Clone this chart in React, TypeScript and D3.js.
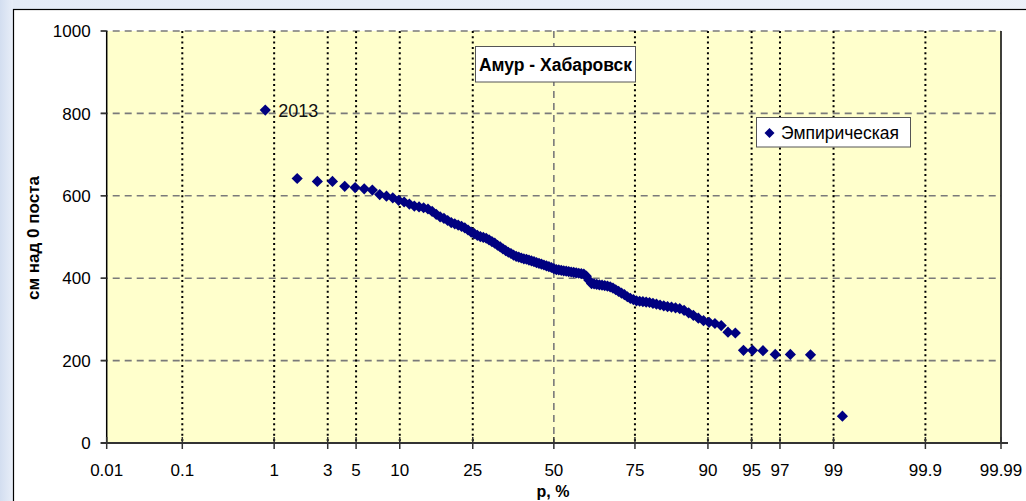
import React from "react";
import * as d3 from "d3";

// Empirical annual maximum levels (cm above gauge zero), ranked descending
const empiricalLevels = [
  808, 642, 635, 635, 623, 620, 617, 614, 603, 599, 595, 589,
  585, 580, 575, 573, 571, 568, 562, 555, 549, 545,
  540, 535, 532, 529, 526, 522, 517, 512, 508, 504,
  501, 499, 497, 493, 489, 485, 480, 476, 471, 467,
  463, 460, 456, 453, 451, 449, 447, 446, 444, 442,
  440, 438, 436, 434, 432, 430, 428, 426,
  423, 421, 420, 419, 418, 417, 416, 415, 414, 413, 412, 411, 410,
  405, 395, 387,
  386, 385, 384, 383, 382, 381, 379,
  376, 372, 368, 364, 360, 355, 351, 348, 345,
  344, 343, 342, 341, 339, 337, 335, 333, 331, 330, 328, 326,
  322, 316, 310, 303, 297, 293, 290, 285, 269, 267,
  225, 225, 224, 215, 215, 214, 65,
];
const pointLabels = ["2013"];
const xTicks = [0.01, 0.1, 1, 3, 5, 10, 25, 50, 75, 90, 95, 97, 99, 99.9, 99.99];
const yTicks = [0, 200, 400, 600, 800, 1000];
const titleText = "Амур - Хабаровск";
const legendText = "Эмпирическая";
const xTitle = "p, %";
const yTitle = "см над 0 поста";

// inverse standard normal CDF (Acklam)
function probit(p: number): number {
  const a = [-3.969683028665376e1, 2.209460984245205e2, -2.759285104469687e2, 1.38357751867269e2, -3.066479806614716e1, 2.506628277459239];
  const b = [-5.447609879822406e1, 1.615858368580409e2, -1.556989798598866e2, 6.680131188771972e1, -1.328068155288572e1];
  const c = [-7.784894002430293e-3, -3.223964580411365e-1, -2.400758277161838, -2.549732539343734, 4.374664141464968, 2.938163982698783];
  const d = [7.784695709041462e-3, 3.224671290700398e-1, 2.445134137142996, 3.754408661907416];
  const pl = 0.02425;
  if (p < pl) {
    const q = Math.sqrt(-2 * Math.log(p));
    return (((((c[0] * q + c[1]) * q + c[2]) * q + c[3]) * q + c[4]) * q + c[5]) / ((((d[0] * q + d[1]) * q + d[2]) * q + d[3]) * q + 1);
  }
  if (p > 1 - pl) {
    const q = Math.sqrt(-2 * Math.log(1 - p));
    return -(((((c[0] * q + c[1]) * q + c[2]) * q + c[3]) * q + c[4]) * q + c[5]) / ((((d[0] * q + d[1]) * q + d[2]) * q + d[3]) * q + 1);
  }
  const q = p - 0.5;
  const r = q * q;
  return ((((((a[0] * r + a[1]) * r + a[2]) * r + a[3]) * r + a[4]) * r + a[5]) * q) / (((((b[0] * r + b[1]) * r + b[2]) * r + b[3]) * r + b[4]) * r + 1);
}

const W = 1026, H = 501;
const L = 106.7, R = 1001, T = 31, B = 443;
const FONT = "'Liberation Sans', Arial, sans-serif";
const NAVY = "#000080";

export default function App() {
  const n = empiricalLevels.length;
  const points = empiricalLevels.map((v, i) => ({ p: (100 * (i + 1)) / (n + 1), v }));

  const x = d3.scaleLinear().domain([probit(0.0001), probit(0.9999)]).range([L, R]);
  const xp = (pct: number) => x(probit(pct / 100));
  const y = d3.scaleLinear().domain([0, 1000]).range([B, T]);

  const diamond = (cx: number, cy: number, r = 5.6) =>
    `M${cx},${cy - r}L${cx + r},${cy}L${cx},${cy + r}L${cx - r},${cy}Z`;

  return (
    <svg width={W} height={H} style={{ position: "absolute", left: 0, top: 0, display: "block" }}>
      <defs>
        <linearGradient id="bg" x1="0" y1="0" x2="1" y2="1">
          <stop offset="0" stopColor="#e4ebf6" />
          <stop offset="1" stopColor="#f3f6fb" />
        </linearGradient>
        <linearGradient id="bgl" x1="0" y1="0" x2="1" y2="0">
          <stop offset="0" stopColor="#d3def0" />
          <stop offset="1" stopColor="#e8eef8" />
        </linearGradient>
      </defs>
      <rect x={0} y={0} width={W} height={H} fill="url(#bg)" />
      <rect x={0} y={0} width={13} height={H} fill="url(#bgl)" />
      <rect x={13.5} y={9.5} width={W + 10} height={H + 10} fill="#ffffff" stroke="#000" strokeWidth={1.2} />

      {/* plot area */}
      <rect x={L} y={T} width={R - L} height={B - T} fill="#ffffcc" />

      {/* horizontal grid */}
      {yTicks.filter((t) => t > 0).map((t) => (
        <line key={"hg" + t} x1={L - 6} x2={R} y1={y(t)} y2={y(t)} stroke="#7a7a7a" strokeWidth={1.6} strokeDasharray="7,5" />
      ))}

      {/* vertical grid */}
      {xTicks.filter((t) => t > 0.01 && t < 99.99).map((t) =>
        t === 50 ? (
          <line key={"vg" + t} x1={xp(t)} x2={xp(t)} y1={T} y2={B} stroke="#7a7a7a" strokeWidth={1.6} strokeDasharray="7,5" />
        ) : (
          <line key={"vg" + t} x1={xp(t)} x2={xp(t)} y1={T} y2={B} stroke="#000" strokeWidth={2} strokeDasharray="2,3.3" />
        )
      )}

      {/* axes */}
      <line x1={L} x2={L} y1={T} y2={B} stroke="#000" strokeWidth={1.5} />
      <line x1={R} x2={R} y1={T} y2={B} stroke="#000" strokeWidth={1.5} />
      <line x1={L - 6} x2={R + 7} y1={B} y2={B} stroke="#333" strokeWidth={2} />
      {yTicks.map((t) => (
        <line key={"yt" + t} x1={L - 6} x2={L} y1={y(t)} y2={y(t)} stroke="#333" strokeWidth={1.5} />
      ))}
      {xTicks.map((t) => (
        <line key={"xt" + t} x1={xp(t)} x2={xp(t)} y1={B - 6} y2={B + 6} stroke="#333" strokeWidth={1.5} />
      ))}

      {/* tick labels */}
      {yTicks.map((t) => (
        <text key={"yl" + t} x={L - 16} y={y(t)} dy="0.36em" textAnchor="end" fontFamily={FONT} fontSize={17} fill="#000">
          {t}
        </text>
      ))}
      {xTicks.map((t) => (
        <text key={"xl" + t} x={xp(t)} y={476} textAnchor="middle" fontFamily={FONT} fontSize={17} fill="#000">
          {String(t)}
        </text>
      ))}

      {/* axis titles */}
      <text x={553} y={497} textAnchor="middle" fontFamily={FONT} fontSize={16} fontWeight="bold">{xTitle}</text>
      <text transform="translate(39,238) rotate(-90)" textAnchor="middle" fontFamily={FONT} fontSize={17} fontWeight="bold">{yTitle}</text>

      {/* points */}
      {points.map((d, i) => (
        <path key={"pt" + i} d={diamond(xp(d.p), y(d.v))} fill={NAVY} />
      ))}
      <text x={xp(points[0].p) + 13} y={y(points[0].v)} dy="0.36em" fontFamily={FONT} fontSize={18} fill="#111">
        {pointLabels[0]}
      </text>

      {/* title box */}
      <rect x={475.5} y={46.5} width={160} height={35.5} fill="#fff" stroke="#555" strokeWidth={1} />
      <text x={555.5} y={64.5} dy="0.36em" textAnchor="middle" fontFamily={FONT} fontSize={17.5} fontWeight="bold">{titleText}</text>

      {/* legend */}
      <rect x={756.5} y={117.5} width={154} height={29.5} fill="#fff" stroke="#555" strokeWidth={1} />
      <path d={diamond(769.5, 133, 5)} fill={NAVY} />
      <text x={781} y={133} dy="0.36em" fontFamily={FONT} fontSize={17.5}>{legendText}</text>
    </svg>
  );
}
